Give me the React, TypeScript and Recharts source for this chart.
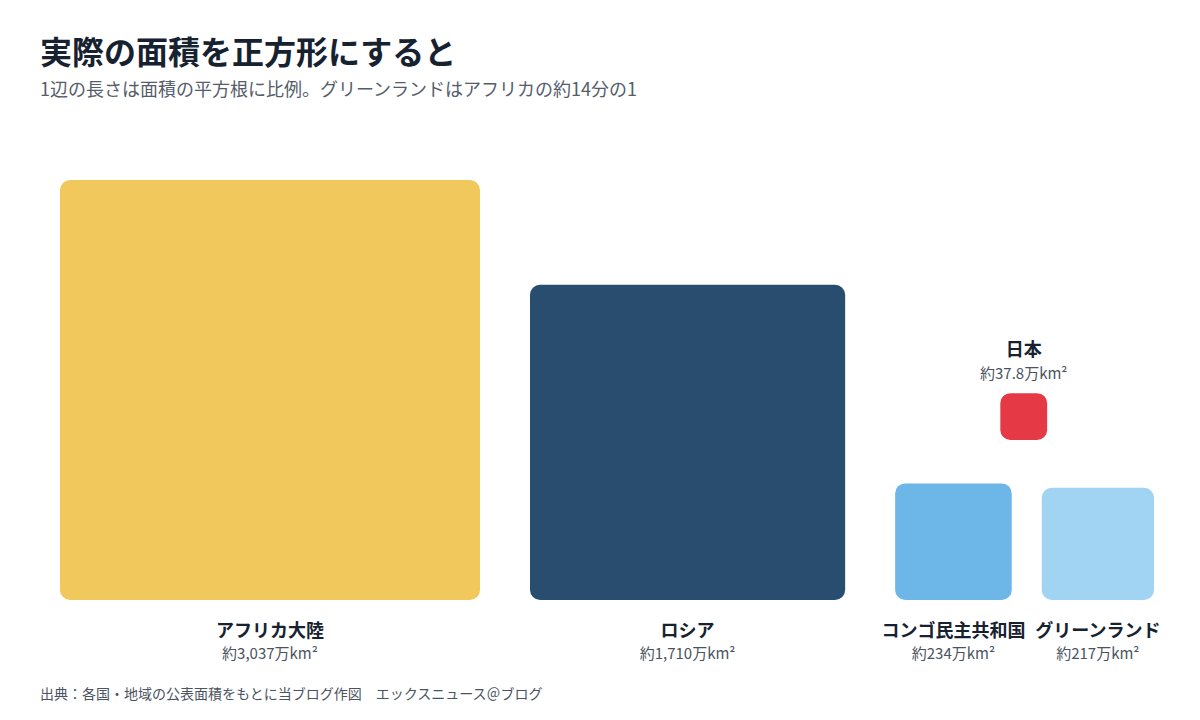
import React from "react"
import { ScatterChart, Scatter, XAxis, YAxis, ZAxis } from "recharts"

// 面積（万km²）。正方形の1辺は面積の平方根に比例
const names = ["アフリカ大陸", "ロシア", "コンゴ民主共和国", "グリーンランド", "日本"]
const areas = [3037, 1710, 234, 217, 37.8]
const colors = ["#F0C85B", "#284D6E", "#6DB6E8", "#A1D3F3", "#E63946"]

const W = 1200
const H = 720
const MARGIN = { top: 180, right: 46, bottom: 120, left: 60 }
const PLOT_H = H - MARGIN.top - MARGIN.bottom
const PLOT_W = W - MARGIN.left - MARGIN.right

const maxSide = Math.sqrt(Math.max(...areas))
const pxPerUnit = PLOT_H / maxSide
const gapsPx = [50, 50, 30] // squares on the ground, left to right

// ground squares are laid out left to right; 日本 floats above the gap
const sides = areas.map((a) => Math.sqrt(a))
const centers: number[] = []
let cursor = 0
for (let i = 0; i < 4; i++) {
  centers.push(cursor + sides[i] / 2)
  cursor += sides[i] + (gapsPx[i] ?? 0) / pxPerUnit
}
const totalUnits = PLOT_W / pxPerUnit
centers.push(centers[2] + sides[2] / 2 + 12 / pxPerUnit)
const lifts = [0, 0, 0, 0, 160 / pxPerUnit]

const data = names.map((name, i) => ({
  name,
  area: areas[i],
  x: centers[i],
  y: lifts[i],
  color: colors[i],
  label: `約${areas[i].toLocaleString("ja-JP")}万km²`,
  above: lifts[i] > 0,
}))

const FONT = '"Noto Sans CJK JP", "Noto Sans", sans-serif'
const DARK = "#172230"
const GRAY = "#4b5361"

function Square(props: any) {
  const { cx, cy, payload } = props
  const s = props.size != null ? Math.sqrt(props.size) : (props.width * Math.sqrt(Math.PI)) / 2
  const nameY = payload.above ? cy - s - 37 : cy + 37
  const valY = payload.above ? cy - s - 14 : cy + 59
  return (
    <g>
      <rect x={cx - s / 2} y={cy - s} width={s} height={s} rx={10} ry={10} fill={payload.color} />
      <text x={cx} y={nameY} textAnchor="middle" fontSize={18} fontWeight={700} fill={DARK} fontFamily={FONT}>
        {payload.name}
      </text>
      <text x={cx} y={valY} textAnchor="middle" fontSize={15} fill={GRAY} fontFamily={FONT}>
        {payload.label}
      </text>
    </g>
  )
}

export default function App() {
  return (
    <div style={{ position: "absolute", left: 0, top: 0, width: W, height: H, background: "#fff", fontFamily: FONT }}>
      <div style={{ position: "absolute", left: 40, top: 28, fontSize: 32, fontWeight: 700, color: DARK, lineHeight: "44px", whiteSpace: "nowrap" }}>
        実際の面積を正方形にすると
      </div>
      <div style={{ position: "absolute", left: 40, top: 75, fontSize: 18, color: "#555d6a", lineHeight: "26px", whiteSpace: "nowrap" }}>
        1辺の長さは面積の平方根に比例。グリーンランドはアフリカの約14分の1
      </div>
      <ScatterChart width={W} height={H} margin={MARGIN}>
        <XAxis type="number" dataKey="x" domain={[0, totalUnits]} hide />
        <YAxis type="number" dataKey="y" domain={[0, maxSide]} hide />
        <ZAxis type="number" dataKey="area" domain={[0, Math.max(...areas)]} range={[0, PLOT_H * PLOT_H]} />
        <Scatter data={data} shape={(p: any) => <Square {...p} />} isAnimationActive={false} />
      </ScatterChart>
      <div style={{ position: "absolute", left: 40, top: 683, fontSize: 14, color: GRAY, lineHeight: "20px", whiteSpace: "nowrap" }}>
        出典：各国・地域の公表面積をもとに当ブログ作図　エックスニュース＠ブログ
      </div>
    </div>
  )
}
